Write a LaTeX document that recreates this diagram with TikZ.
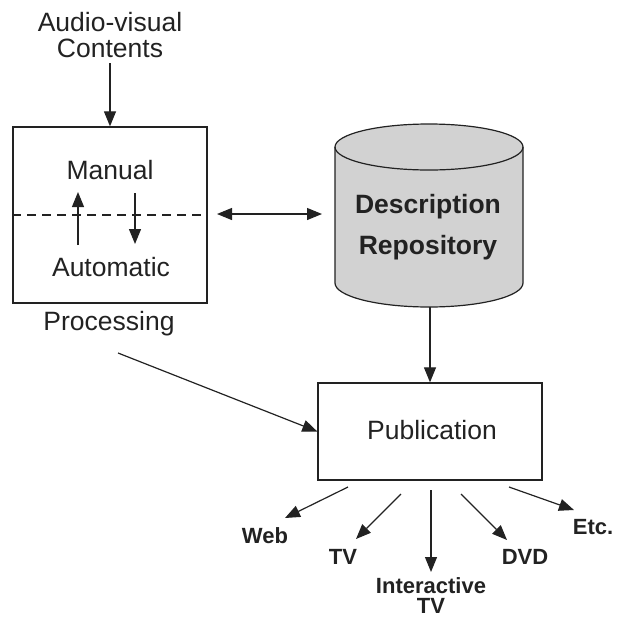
\documentclass[tikz,border=0pt]{standalone}
\usepackage{fontspec}
\setmainfont{Liberation Sans}
\usetikzlibrary{arrows.meta}
\definecolor{cylfill}{HTML}{D2D2D2}
\definecolor{ink}{HTML}{222222}
\tikzset{
  big/.style={font=\fontsize{26.5}{26}\selectfont, text=ink, inner sep=0pt},
  small/.style={font=\fontsize{22}{20}\selectfont\bfseries, text=ink, inner sep=0pt},
  boxed/.style={draw=ink, line width=1.3pt, inner sep=0pt},
  conn/.style={draw=ink, line width=1.2pt, -{Triangle[length=15pt,width=12pt]}},
}
\begin{document}
\begin{tikzpicture}[x=1pt,y=-1pt]
\useasboundingbox (0,0) rectangle (619,619);
% processing box
\node[boxed, minimum width=194pt, minimum height=176pt] (proc) at (110,215) {};
\draw[ink, line width=1.2pt, dash pattern=on 9pt off 6pt] (proc.west) -- (proc.east);
\node[big] (man) at (110,170) {Manual};
\node[big] (aut) at (111,267) {Automatic};
\coordinate (u1) at (78,245); \coordinate (u2) at (78,192);
\coordinate (d1) at (135,193); \coordinate (d2) at (135,244);
\draw[conn] (u1) -- (u2);
\draw[conn] (d1) -- (d2);
\node[big, align=center] (av) at (110,35) {Audio-visual\\Contents};
\coordinate (avb) at (110,63);
\draw[conn] (avb) -- (proc.north);
\node[big] (plab) at (109,324) {Processing};
% cylinder
\filldraw[fill=cylfill, draw=ink, line width=1.2pt]
  (335,147) -- (335,283) arc[start angle=180, end angle=360, x radius=94pt, y radius=24pt]
  -- (523,147) arc[start angle=0, end angle=180, x radius=94pt, y radius=23pt] -- cycle;
\draw[ink, line width=1.2pt] (335,147) arc[start angle=180, end angle=360, x radius=94pt, y radius=23pt];
\node[minimum width=188pt, minimum height=184pt, inner sep=0pt] (repo) at (429,215) {};
\node[big, font=\fontsize{26.5}{26}\selectfont\bfseries] (desc) at (428,207) {Description};
\node[big, font=\fontsize{26.5}{26}\selectfont\bfseries] (reps) at (428,248) {Repository};
% double arrow
\coordinate (da1) at (217,214); \coordinate (da2) at (322,214);
\draw[conn, {Triangle[length=15pt,width=12pt]}-{Triangle[length=15pt,width=12pt]}] (da1) -- (da2);
% publication
\node[boxed, minimum width=224pt, minimum height=97pt] (pub) at (430,431.5) {};
\node[big] (publab) at (432,430) {Publication};
\draw[conn] (repo.south -| 430,0) -- (pub.north -| 430,0);
\coordinate (ps) at (118,353);
\draw[conn] (ps) -- (pub.west);
% outputs
\node[small] (web) at (265,536) {Web};
\node[small] (tv) at (343,557) {TV};
\node[small, align=center] (itv) at (431,596) {Interactive\\TV};
\node[small] (dvd) at (525,557) {DVD};
\node[small] (etc) at (593,527) {Etc.};
\coordinate (o1) at (348,487); \coordinate (t1) at (285,518);
\coordinate (o2) at (401,494); \coordinate (t2) at (356,539);
\coordinate (o3) at (431,490); \coordinate (t3) at (431,572);
\coordinate (o4) at (461,494); \coordinate (t4) at (507,540);
\coordinate (o5) at (509,487); \coordinate (t5) at (574,510);
\draw[conn] (o1) -- (t1);
\draw[conn] (o2) -- (t2);
\draw[conn] (o3) -- (t3);
\draw[conn] (o4) -- (t4);
\draw[conn] (o5) -- (t5);
\end{tikzpicture}
\end{document}
